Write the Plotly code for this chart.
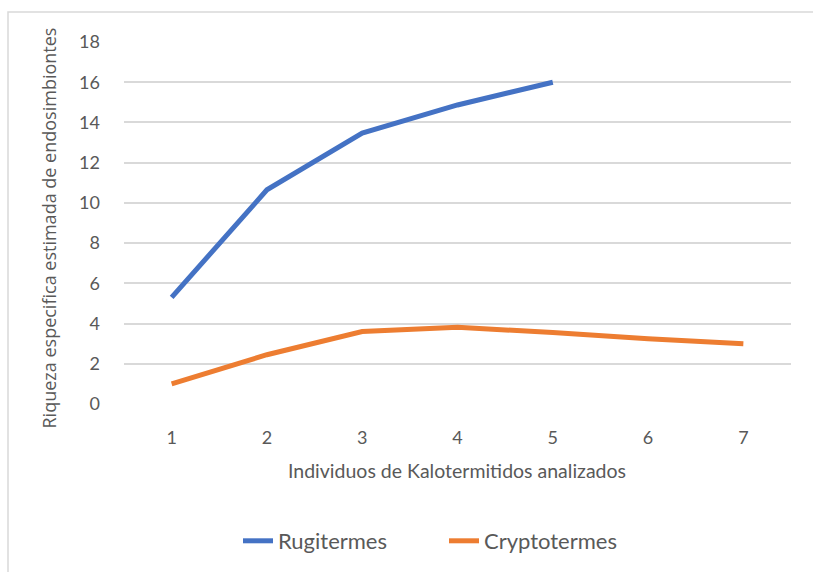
import plotly.graph_objects as go

# Individuals analysed (category axis) and estimated endosimbiont richness
individuos = [1, 2, 3, 4, 5, 6, 7]
rugitermes = [5.3, 10.65, 13.47, 14.87, 16.0]
cryptotermes = [1.0, 2.45, 3.6, 3.82, 3.55, 3.24, 3.0]

y_ticks = [0, 2, 4, 6, 8, 10, 12, 14, 16, 18]

TEXT = "#595959"
GRID = "#D9D9D9"
FONT = "Lato, 'Open Sans', sans-serif"

W, H = 813, 572
L, R, T, B = 124, 22, 42, 167
pw, ph = W - L - R, H - T - B


def px_x(x):
    return (x - L) / pw


def px_y(y):
    return (H - B - y) / ph


fig = go.Figure()
fig.add_trace(go.Scatter(
    x=individuos[:len(rugitermes)], y=rugitermes, name="Rugitermes",
    mode="lines", line=dict(color="#4472C4", width=5),
))
fig.add_trace(go.Scatter(
    x=individuos, y=cryptotermes, name="Cryptotermes",
    mode="lines", line=dict(color="#ED7D31", width=5),
))

fig.update_layout(
    width=W, height=H,
    margin=dict(l=L, r=R, t=T, b=B, pad=0),
    paper_bgcolor="white", plot_bgcolor="white",
    font=dict(family=FONT, color=TEXT, size=17),
    showlegend=True,
    legend=dict(
        orientation="h", x=px_x(444), xanchor="center",
        y=px_y(541), yanchor="middle",
        font=dict(size=22, color=TEXT), itemwidth=30,
        entrywidth=161, entrywidthmode="pixels",
        bgcolor="rgba(0,0,0,0)", traceorder="normal",
    ),
    xaxis=dict(
        range=[0.5, 7.5], tickmode="array", tickvals=individuos,
        ticktext=[str(v) for v in individuos],
        showgrid=False, zeroline=False, showline=False,
        ticks="", ticklabelstandoff=21,
        tickfont=dict(size=18, color=TEXT),
    ),
    yaxis=dict(
        range=[0, 18], tickmode="array", tickvals=y_ticks,
        showgrid=True, gridcolor=GRID, gridwidth=1.5,
        zeroline=False, showline=False, ticks="",
        ticklabelstandoff=23,
        tickfont=dict(size=18, color=TEXT),
    ),
    shapes=[dict(
        type="rect", xref="paper", yref="paper",
        x0=px_x(8), x1=px_x(830), y0=px_y(590), y1=px_y(12),
        line=dict(color="#D9D9D9", width=1.5), fillcolor="rgba(0,0,0,0)",
        layer="below",
    )],
    annotations=[
        dict(
            text="Individuos de Kalotermitidos analizados",
            xref="paper", yref="paper", x=px_x(457), y=px_y(472),
            xanchor="center", yanchor="middle", showarrow=False,
            font=dict(size=19.5, color=TEXT),
        ),
        dict(
            text="Riqueza especifica estimada de endosimbiontes",
            xref="paper", yref="paper", x=px_x(49), y=px_y(229),
            xanchor="center", yanchor="middle", showarrow=False,
            textangle=-90, font=dict(size=18, color=TEXT, family="'Open Sans', sans-serif"),
        ),
    ],
)

fig.write_html("out.html")
